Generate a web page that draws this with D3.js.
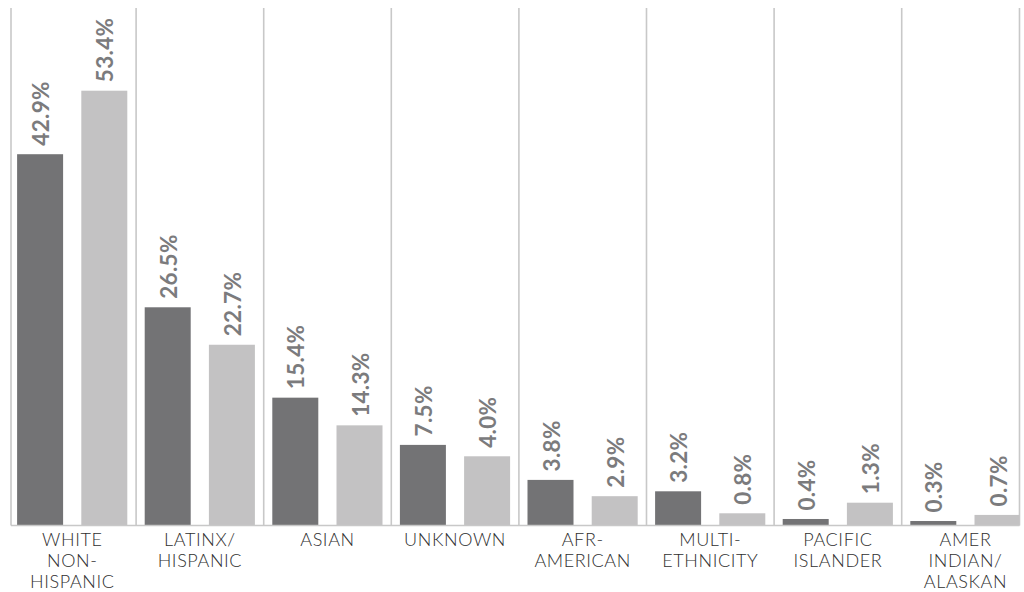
<!DOCTYPE html>
<html>
<head>
<meta charset="utf-8">
<script src="https://cdn.jsdelivr.net/npm/d3@7"></script>
<style>
  html, body { margin: 0; padding: 0; background: #fff; }
  svg { display: block; }
</style>
</head>
<body>
<svg id="chart" width="1024" height="592"></svg>
<script>
// ---- data ----
const categories = [
  ["WHITE", "NON-", "HISPANIC"],
  ["LATINX/", "HISPANIC"],
  ["ASIAN"],
  ["UNKNOWN"],
  ["AFR-", "AMERICAN"],
  ["MULTI-", "ETHNICITY"],
  ["PACIFIC", "ISLANDER"],
  ["AMER", "INDIAN/", "ALASKAN"]
];
const series = ["dark", "light"];
// bar lengths as drawn in the picture (same units as the 53.4% bar)
const darkValues  = [45.6, 26.8, 15.7, 9.9, 5.6, 4.2, 0.8, 0.55];
const lightValues = [53.4, 22.2, 12.3, 8.5, 3.6, 1.5, 2.8, 1.3];
// printed value labels
const darkLabels  = ["42.9%", "26.5%", "15.4%", "7.5%", "3.8%", "3.2%", "0.4%", "0.3%"];
const lightLabels = ["53.4%", "22.7%", "14.3%", "4.0%", "2.9%", "0.8%", "1.3%", "0.7%"];

// ---- layout ----
const svg = d3.select("#chart");
const baseY = 525.5, topY = 8;
const frameL = 11, frameR = 1019.5;
const step = 127.6, x0 = 8.5;
const colors = { dark: "#737375", light: "#c3c2c3" };

const x = d3.scaleBand()
  .domain(d3.range(categories.length))
  .range([x0, x0 + step * categories.length])
  .paddingInner(0).paddingOuter(0);

const x1 = d3.scaleBand()
  .domain(series)
  .range([8.6, 118.8])
  .paddingInner(0.2835).paddingOuter(0);

const y = d3.scaleLinear()
  .domain([0, 53.4])
  .range([baseY, baseY - 434.8]);

const data = categories.map((c, i) => ({
  i,
  bars: [
    { s: "dark", v: darkValues[i], label: darkLabels[i] },
    { s: "light", v: lightValues[i], label: lightLabels[i] }
  ]
}));

// clip to frame
svg.append("defs").append("clipPath").attr("id", "clip")
  .append("rect").attr("x", frameL).attr("y", 0)
  .attr("width", frameR - frameL).attr("height", baseY + 1);

// separators
const seps = d3.range(1, categories.length).map(i => x(i));
const lineColor = "#c8c8c8";
svg.append("g").selectAll("line")
  .data([frameL, ...seps, frameR])
  .join("line")
  .attr("x1", d => d).attr("x2", d => d)
  .attr("y1", topY).attr("y2", baseY)
  .attr("stroke", lineColor).attr("stroke-width", 1.6);

// bars
const groups = svg.append("g").attr("clip-path", "url(#clip)")
  .selectAll("g").data(data).join("g")
  .attr("transform", d => `translate(${x(d.i)},0)`);

groups.selectAll("rect").data(d => d.bars).join("rect")
  .attr("x", d => x1(d.s))
  .attr("width", x1.bandwidth())
  .attr("y", d => y(d.v))
  .attr("height", d => baseY - y(d.v))
  .attr("fill", d => colors[d.s]);

// value labels
const lab = svg.append("g").selectAll("g").data(data).join("g")
  .attr("transform", d => `translate(${x(d.i)},0)`);
lab.selectAll("text").data(d => d.bars).join("text")
  .attr("transform", d => `translate(${x1(d.s) + x1.bandwidth() / 2 + 1},${y(d.v) - 8.5}) rotate(-90)`)
  .attr("dy", "0.36em")
  .attr("text-anchor", "start")
  .attr("font-family", "Lato, 'Open Sans', sans-serif")
  .attr("font-weight", 700)
  .attr("font-size", 22.5)
  .attr("letter-spacing", 0.3)
  .attr("fill", "#7b7b7d")
  .text(d => d.label);

// baseline
svg.append("line")
  .attr("x1", frameL).attr("x2", frameR)
  .attr("y1", baseY).attr("y2", baseY)
  .attr("stroke", lineColor).attr("stroke-width", 1.6);

// category labels
const cat = svg.append("g").selectAll("text").data(categories).join("text")
  .attr("x", (d, i) => x(i) + x.bandwidth() / 2)
  .attr("y", 545.5)
  .attr("text-anchor", "middle")
  .attr("font-family", "Lato, 'Open Sans', sans-serif")
  .attr("font-weight", 300)
  .attr("font-size", 18)
  .attr("letter-spacing", 0.6)
  .attr("fill", "#2f2f2f");
cat.selectAll("tspan").data(d => d).join("tspan")
  .attr("x", function () { return d3.select(this.parentNode).attr("x"); })
  .attr("dy", (d, j) => j === 0 ? 0 : 21)
  .text(d => d);
</script>
</body>
</html>
